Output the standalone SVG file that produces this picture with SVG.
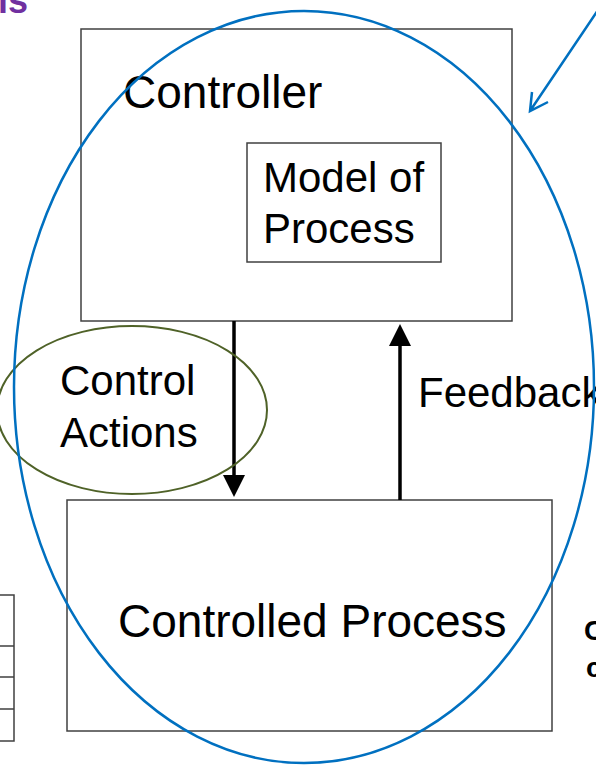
<svg xmlns="http://www.w3.org/2000/svg" width="596" height="765" viewBox="0 0 596 765">
<defs>
<style>
.box{fill:#fff;stroke:#404040;stroke-width:1.5}
.lbl{font-family:"Liberation Sans",Arial,sans-serif;font-size:42px;fill:#000}
.big{font-size:46px}
.conn{stroke:#000;stroke-width:3.5;fill:none}
.tbl{fill:none;stroke:#404040;stroke-width:1.5}
</style>
<marker id="ah" markerWidth="24" markerHeight="24" refX="0" refY="11" orient="auto" markerUnits="userSpaceOnUse" viewBox="0 0 24 24">
<path d="M0,0 L22,11 L0,22 Z" fill="#000"/>
</marker>
</defs>
<rect width="596" height="765" fill="#fff"/>
<text x="-2" y="13" style="font-family:'Liberation Sans',Arial,sans-serif;font-weight:bold;font-size:36px;fill:#7030A0">ls</text>
<g id="table">
<path class="tbl" d="M0,595 H14 V741 H0 M0,646 H14 M0,677 H14 M0,709 H14"/>
</g>
<g id="controller">
<rect class="box" x="81" y="29" width="431" height="292"/>
<text class="lbl big" x="123" y="108">Controller</text>
</g>
<g id="model">
<rect class="box" x="247" y="143" width="194" height="119"/>
<text class="lbl" x="263" y="192">Model of</text>
<text class="lbl" x="263" y="243">Process</text>
</g>
<g id="process">
<rect class="box" x="67" y="500" width="485" height="231"/>
<text class="lbl big" x="118" y="637">Controlled Process</text>
</g>
<g id="connectors">
<line class="conn" x1="234" y1="321" x2="234" y2="475" marker-end="url(#ah)"/>
<line class="conn" x1="400" y1="500" x2="400" y2="346" marker-end="url(#ah)"/>
</g>
<g id="labels">
<text class="lbl" x="60" y="395">Control</text>
<text class="lbl" x="60" y="447">Actions</text>
<text class="lbl" x="418" y="407">Feedback</text>
</g>
<g id="annotations">
<ellipse cx="132" cy="410" rx="135" ry="84" fill="none" stroke="#4F6228" stroke-width="2"/>
<ellipse cx="304" cy="387" rx="290" ry="376" fill="none" stroke="#0070C0" stroke-width="2.5"/>
<path d="M598,10 L530,111 M532,92 L530,111 L548,102" fill="none" stroke="#0070C0" stroke-width="2.5"/>
</g>
<text x="584" y="640" style="font-family:'Liberation Sans',Arial,sans-serif;font-weight:bold;font-size:28px;fill:#000">C</text>
<text x="586" y="677" style="font-family:'Liberation Sans',Arial,sans-serif;font-weight:bold;font-size:28px;fill:#000">c</text>
</svg>
